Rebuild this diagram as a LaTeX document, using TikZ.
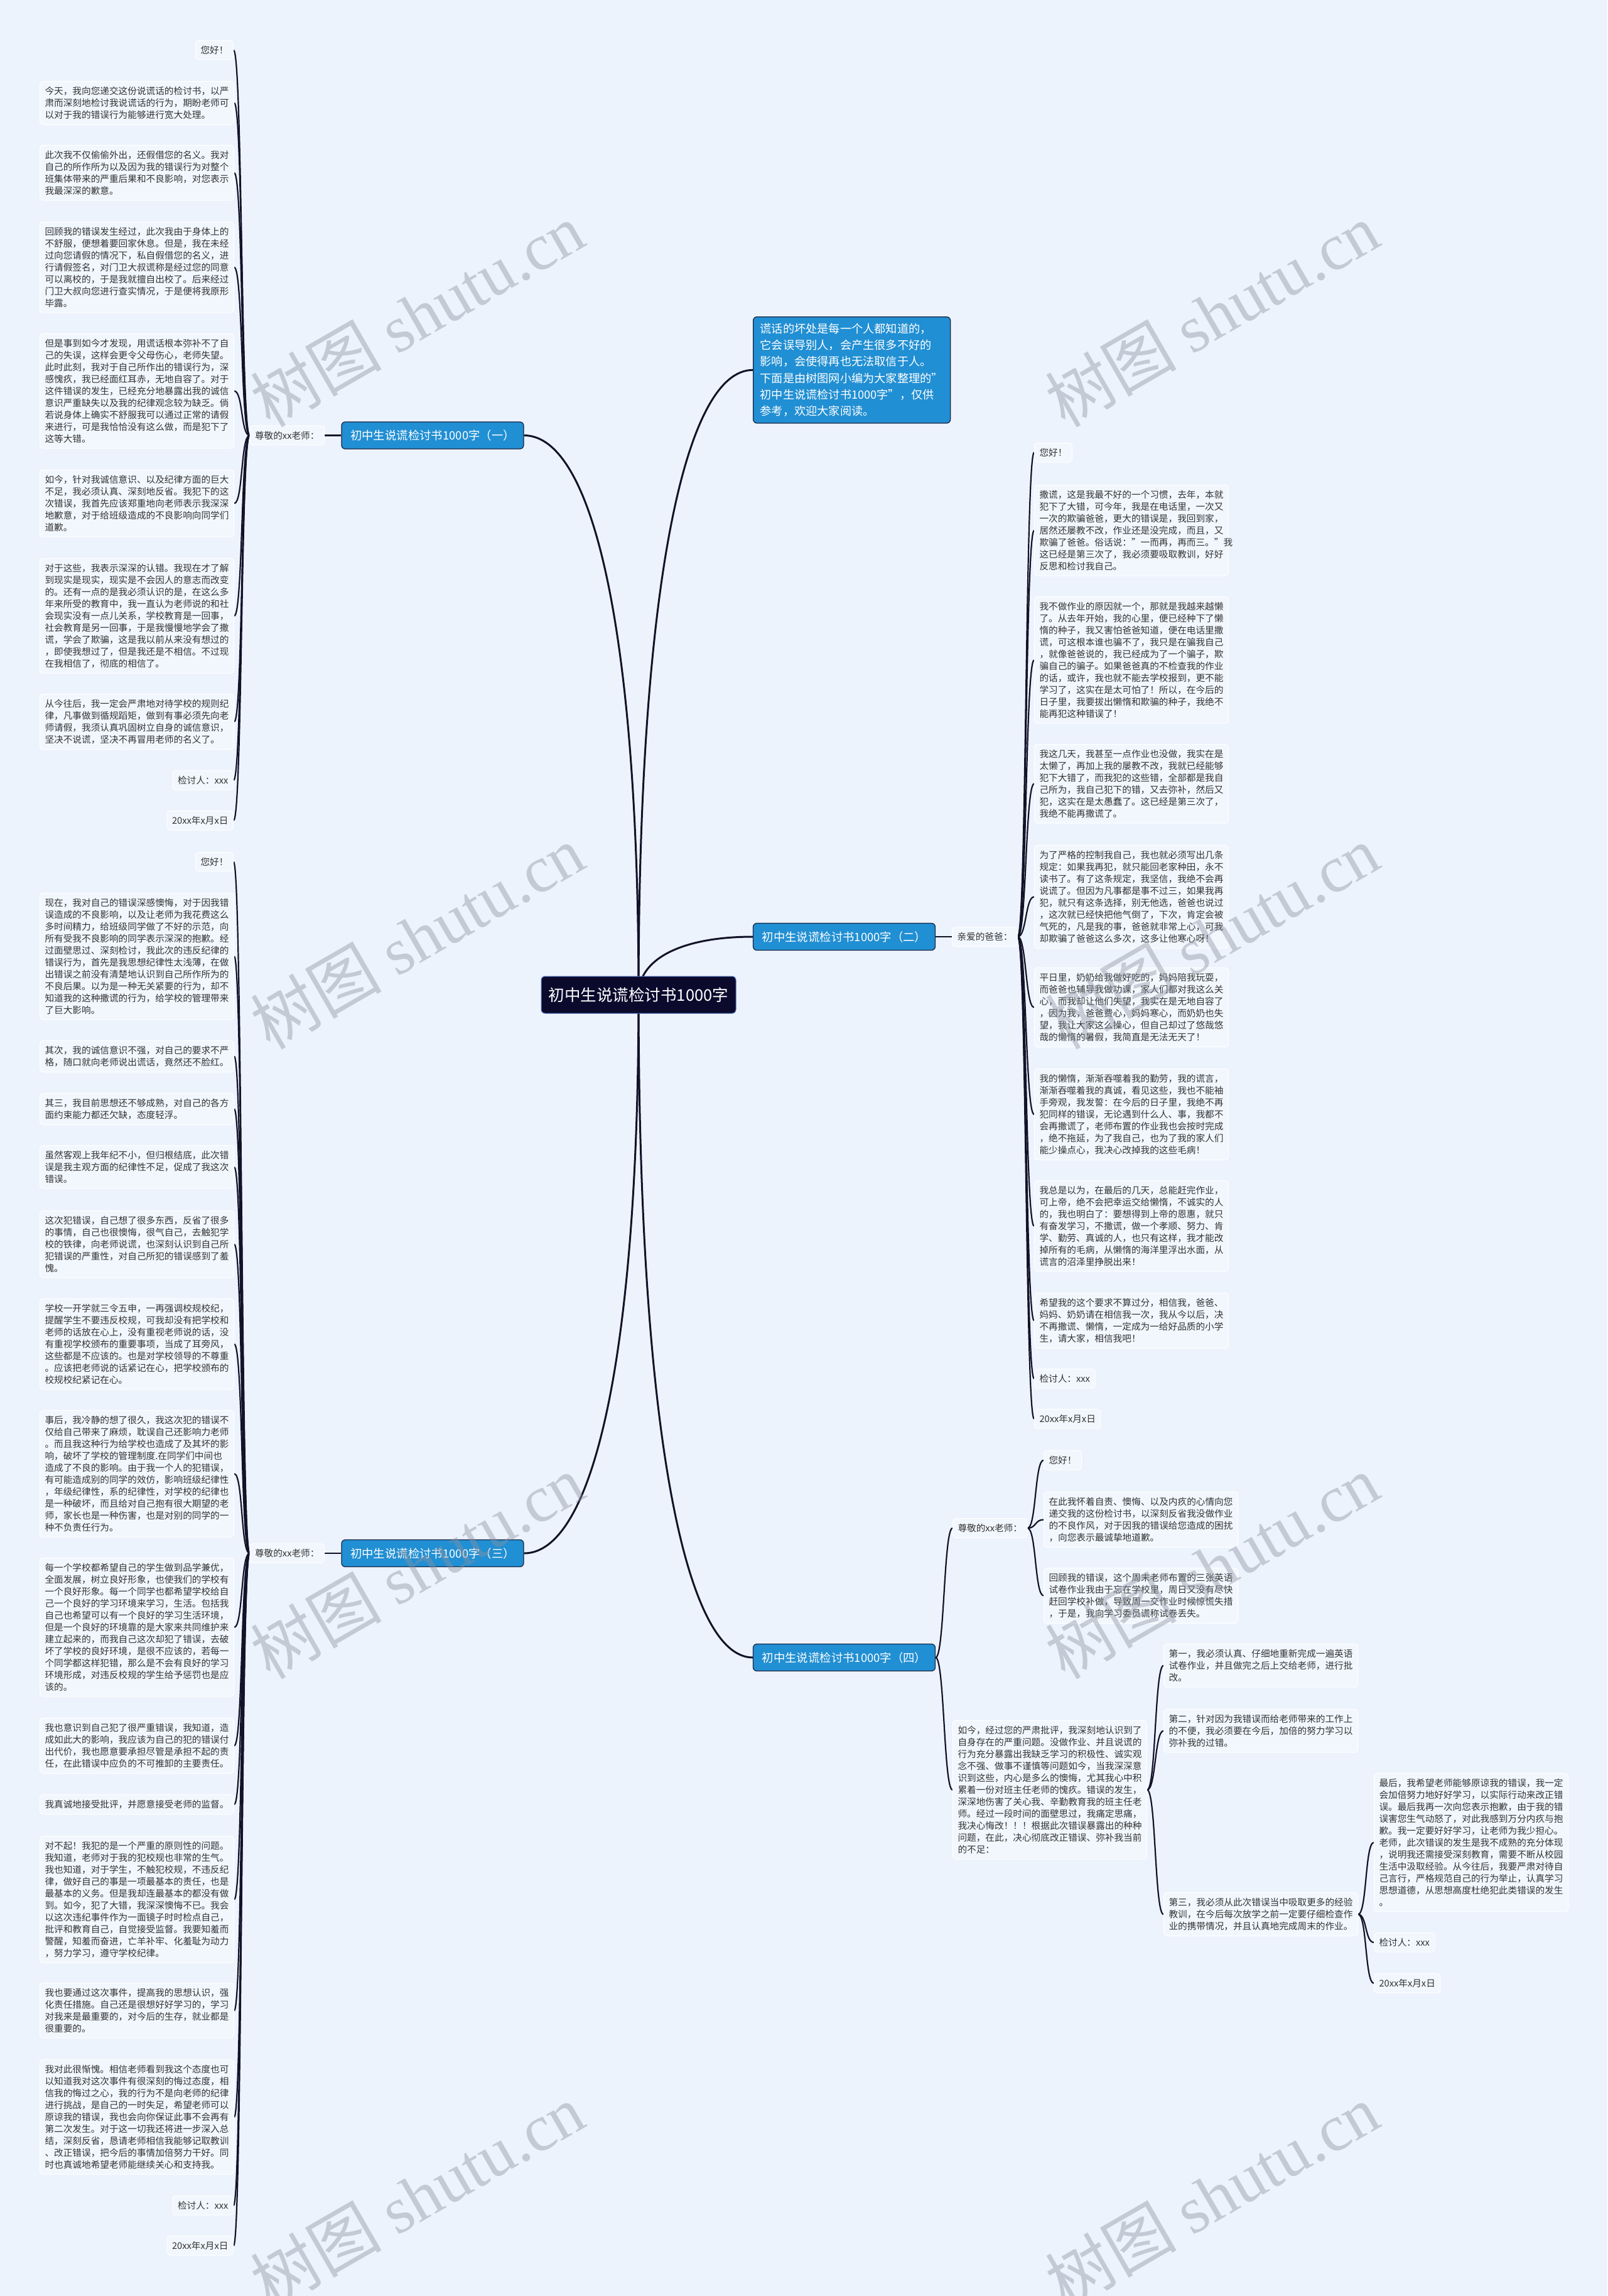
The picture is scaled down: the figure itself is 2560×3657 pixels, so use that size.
\documentclass[tikz,border=0pt]{standalone}
\usepackage{fontspec}
\setmainfont{Noto Sans CJK SC}
\newfontfamily\wmserif{Liberation Serif}
\usetikzlibrary{calc}
\definecolor{bg}{RGB}{237,243,252}
\definecolor{boxfill}{RGB}{242,247,254}
\definecolor{txt}{RGB}{51,51,51}
\definecolor{lnk}{RGB}{18,18,40}
\definecolor{brfill}{RGB}{33,143,211}
\definecolor{brdraw}{RGB}{25,40,70}
\definecolor{ctrfill}{RGB}{12,10,44}
\definecolor{ctrdraw}{RGB}{80,120,200}
\definecolor{wm}{RGB}{140,146,160}
\pgfdeclarelayer{bgl}\pgfdeclarelayer{fgl}
\pgfsetlayers{bgl,main,fgl}
\newcommand\mmL[2]{\draw[sub] (#1.west) .. controls +(-14,0) and +(14,0) .. (#2.east);}
\newcommand\mmR[2]{\draw[sub] (#1.east) .. controls +(14,0) and +(-14,0) .. (#2.west);}
\begin{document}
\begin{tikzpicture}[x=1pt,y=-1pt,
  leaf/.style={draw=white, line width=1pt, fill=boxfill, rounded corners=5pt, text=txt,
    font=\fontsize{14.65}{19}\selectfont, inner xsep=8pt, inner ysep=8.5pt, align=left},
  para/.style={leaf, text width=293pt, anchor=north west},
  branch/.style={draw=brdraw, line width=1.3pt, fill=brfill, rounded corners=6pt, text=white,
    font=\fontsize{18.4}{22}\selectfont, minimum width=290pt, minimum height=43pt, inner xsep=0pt},
  intro/.style={draw=brdraw, line width=1.3pt, fill=brfill, rounded corners=6pt, text=white,
    font=\fontsize{18.2}{26.2}\selectfont, text width=292pt, align=left, inner xsep=11pt, inner ysep=10.5pt, anchor=north west},
  center/.style={draw=ctrdraw, line width=1pt, fill=ctrfill, rounded corners=6pt, text=white,
    font=\fontsize{25.5}{30}\selectfont, minimum width=310pt, minimum height=59pt},
  sub/.style={draw=lnk, line width=2.2pt},
  mainl/.style={draw=lnk, line width=3pt},
  wmark/.style={text=wm, text opacity=0.42, font=\fontsize{105}{105}\selectfont, rotate=30}
]
\useasboundingbox (0,0) rectangle (2560,3657);

% ---------- centre and branches ----------
\node[center] (ctr) at (1017,1584.5) {初中生说谎检讨书1000字};
\coordinate (C) at (1017,1584.5);
\node[intro] (intro) at (1199,504) {谎话的坏处是每一个人都知道的，\\它会误导别人，会产生很多不好的\\影响，会使得再也无法取信于人。\\下面是由树图网小编为大家整理的"\\初中生说谎检讨书1000字"，仅供\\参考，欢迎大家阅读。};
\node[branch] (b1) at (689,693.5) {初中生说谎检讨书1000字（一）};
\node[branch] (b2) at (1344.5,1492) {初中生说谎检讨书1000字（二）};
\node[branch] (b3) at (689,2474) {初中生说谎检讨书1000字（三）};
\node[branch] (b4) at (1344.5,2640) {初中生说谎检讨书1000字（四）};

% ---------- branch 1 ----------
\node[leaf, anchor=east] (z1) at (517,693.5) {尊敬的xx老师：};
\node[leaf, anchor=north east] (a0) at (372,64) {您好！};
\node[para] (a1) at (63,129) {今天，我向您递交这份说谎话的检讨书，以严\\肃而深刻地检讨我说谎话的行为，期盼老师可\\以对于我的错误行为能够进行宽大处理。};
\node[para] (a2) at (63,231) {此次我不仅偷偷外出，还假借您的名义。我对\\自己的所作所为以及因为我的错误行为对整个\\班集体带来的严重后果和不良影响，对您表示\\我最深深的歉意。};
\node[para] (a3) at (63,353) {回顾我的错误发生经过，此次我由于身体上的\\不舒服，便想着要回家休息。但是，我在未经\\过向您请假的情况下，私自假借您的名义，进\\行请假签名，对门卫大叔谎称是经过您的同意\\可以离校的，于是我就擅自出校了。后来经过\\门卫大叔向您进行查实情况，于是便将我原形\\毕露。};
\node[para] (a4) at (63,531) {但是事到如今才发现，用谎话根本弥补不了自\\己的失误，这样会更令父母伤心，老师失望。\\此时此刻，我对于自己所作出的错误行为，深\\感愧疚，我已经面红耳赤，无地自容了。对于\\这件错误的发生，已经充分地暴露出我的诚信\\意识严重缺失以及我的纪律观念较为缺乏。倘\\若说身体上确实不舒服我可以通过正常的请假\\来进行，可是我恰恰没有这么做，而是犯下了\\这等大错。};
\node[para] (a5) at (63,748) {如今，针对我诚信意识、以及纪律方面的巨大\\不足，我必须认真、深刻地反省。我犯下的这\\次错误，我首先应该郑重地向老师表示我深深\\地歉意，对于给班级造成的不良影响向同学们\\道歉。};
\node[para] (a6) at (63,889) {对于这些，我表示深深的认错。我现在才了解\\到现实是现实，现实是不会因人的意志而改变\\的。还有一点的是我必须认识的是，在这么多\\年来所受的教育中，我一直认为老师说的和社\\会现实没有一点儿关系，学校教育是一回事，\\社会教育是另一回事，于是我慢慢地学会了撒\\谎，学会了欺骗，这是我以前从来没有想过的\\，即使我想过了，但是我还是不相信。不过现\\在我相信了，彻底的相信了。};
\node[para] (a7) at (63,1105) {从今往后，我一定会严肃地对待学校的规则纪\\律，凡事做到循规蹈矩，做到有事必须先向老\\师请假，我须认真巩固树立自身的诚信意识，\\坚决不说谎，坚决不再冒用老师的名义了。};
\node[leaf, anchor=north east] (a8) at (372,1227) {检讨人：xxx};
\node[leaf, anchor=north east] (a9) at (372,1291) {20xx年x月x日};

% ---------- branch 2 ----------
\node[leaf, anchor=west] (z2) at (1516,1492) {亲爱的爸爸：};
\node[leaf, anchor=north west] (e0) at (1647,705) {您好！};
\node[para] (e1) at (1647,772) {撒谎，这是我最不好的一个习惯，去年，本就\\犯下了大错，可今年，我是在电话里，一次又\\一次的欺骗爸爸，更大的错误是，我回到家，\\居然还屡教不改，作业还是没完成，而且，又\\欺骗了爸爸。俗话说："一而再，再而三。"我\\这已经是第三次了，我必须要吸取教训，好好\\反思和检讨我自己。};
\node[para] (e2) at (1647,950) {我不做作业的原因就一个，那就是我越来越懒\\了。从去年开始，我的心里，便已经种下了懒\\惰的种子，我又害怕爸爸知道，便在电话里撒\\谎，可这根本谁也骗不了，我只是在骗我自己\\，就像爸爸说的，我已经成为了一个骗子，欺\\骗自己的骗子。如果爸爸真的不检查我的作业\\的话，或许，我也就不能去学校报到，更不能\\学习了，这实在是太可怕了！所以，在今后的\\日子里，我要拔出懒惰和欺骗的种子，我绝不\\能再犯这种错误了！};
\node[para] (e3) at (1647,1185) {我这几天，我甚至一点作业也没做，我实在是\\太懒了，再加上我的屡教不改，我就已经能够\\犯下大错了，而我犯的这些错，全部都是我自\\己所为，我自己犯下的错，又去弥补，然后又\\犯，这实在是太愚蠢了。这已经是第三次了，\\我绝不能再撒谎了。};
\node[para] (e4) at (1647,1346) {为了严格的控制我自己，我也就必须写出几条\\规定：如果我再犯，就只能回老家种田，永不\\读书了。有了这条规定，我坚信，我绝不会再\\说谎了。但因为凡事都是事不过三，如果我再\\犯，就只有这条选择，别无他选，爸爸也说过\\，这次就已经快把他气倒了，下次，肯定会被\\气死的，凡是我的事，爸爸就非常上心，可我\\却欺骗了爸爸这么多次，这多让他寒心呀！};
\node[para] (e5) at (1647,1541) {平日里，奶奶给我做好吃的，妈妈陪我玩耍，\\而爸爸也辅导我做功课，家人们都对我这么关\\心，而我却让他们失望，我实在是无地自容了\\，因为我，爸爸费心，妈妈寒心，而奶奶也失\\望，我让大家这么操心，但自己却过了悠哉悠\\哉的懒惰的暑假，我简直是无法无天了！};
\node[para] (e6) at (1647,1702) {我的懒惰，渐渐吞噬着我的勤劳，我的谎言，\\渐渐吞噬着我的真诚，看见这些，我也不能袖\\手旁观，我发誓：在今后的日子里，我绝不再\\犯同样的错误，无论遇到什么人、事，我都不\\会再撒谎了，老师布置的作业我也会按时完成\\，绝不拖延，为了我自己，也为了我的家人们\\能少操点心，我决心改掉我的这些毛病！};
\node[para] (e7) at (1647,1880) {我总是以为，在最后的几天，总能赶完作业，\\可上帝，绝不会把幸运交给懒惰，不诚实的人\\的，我也明白了：要想得到上帝的恩惠，就只\\有奋发学习，不撒谎，做一个孝顺、努力、肯\\学、勤劳、真诚的人，也只有这样，我才能改\\掉所有的毛病，从懒惰的海洋里浮出水面，从\\谎言的沼泽里挣脱出来！};
\node[para] (e8) at (1647,2059) {希望我的这个要求不算过分，相信我，爸爸、\\妈妈、奶奶请在相信我一次，我从今以后，决\\不再撒谎、懒惰，一定成为一给好品质的小学\\生，请大家，相信我吧！};
\node[leaf, anchor=north west] (e9) at (1647,2180) {检讨人：xxx};
\node[leaf, anchor=north west] (e10) at (1647,2244) {20xx年x月x日};

% ---------- branch 3 ----------
\node[leaf, anchor=east] (z3) at (517,2474) {尊敬的xx老师：};
\node[leaf, anchor=north east] (c0) at (372,1357) {您好！};
\node[para] (c1) at (63,1422) {现在，我对自己的错误深感懊悔，对于因我错\\误造成的不良影响，以及让老师为我花费这么\\多时间精力，给班级同学做了不好的示范，向\\所有受我不良影响的同学表示深深的抱歉。经\\过面壁思过、深刻检讨，我此次的违反纪律的\\错误行为，首先是我思想纪律性太浅薄，在做\\出错误之前没有清楚地认识到自己所作所为的\\不良后果。以为是一种无关紧要的行为，却不\\知道我的这种撒谎的行为，给学校的管理带来\\了巨大影响。};
\node[para] (c2) at (63,1657) {其次，我的诚信意识不强，对自己的要求不严\\格，随口就向老师说出谎话，竟然还不脸红。};
\node[para] (c3) at (63,1741) {其三，我目前思想还不够成熟，对自己的各方\\面约束能力都还欠缺，态度轻浮。};
\node[para] (c4) at (63,1824) {虽然客观上我年纪不小，但归根结底，此次错\\误是我主观方面的纪律性不足，促成了我这次\\错误。};
\node[para] (c5) at (63,1928) {这次犯错误，自己想了很多东西，反省了很多\\的事情，自己也很懊悔，很气自己，去触犯学\\校的铁律，向老师说谎，也深刻认识到自己所\\犯错误的严重性，对自己所犯的错误感到了羞\\愧。};
\node[para] (c6) at (63,2068) {学校一开学就三令五申，一再强调校规校纪，\\提醒学生不要违反校规，可我却没有把学校和\\老师的话放在心上，没有重视老师说的话，没\\有重视学校颁布的重要事项，当成了耳旁风，\\这些都是不应该的。也是对学校领导的不尊重\\。应该把老师说的话紧记在心，把学校颁布的\\校规校纪紧记在心。};
\node[para] (c7) at (63,2246) {事后，我冷静的想了很久，我这次犯的错误不\\仅给自己带来了麻烦，耽误自己还影响力老师\\。而且我这种行为给学校也造成了及其坏的影\\响，破坏了学校的管理制度.在同学们中间也\\造成了不良的影响。由于我一个人的犯错误，\\有可能造成别的同学的效仿，影响班级纪律性\\，年级纪律性，系的纪律性，对学校的纪律也\\是一种破坏，而且给对自己抱有很大期望的老\\师，家长也是一种伤害，也是对别的同学的一\\种不负责任行为。};
\node[para] (c8) at (63,2481) {每一个学校都希望自己的学生做到品学兼优，\\全面发展，树立良好形象，也使我们的学校有\\一个良好形象。每一个同学也都希望学校给自\\己一个良好的学习环境来学习，生活。包括我\\自己也希望可以有一个良好的学习生活环境，\\但是一个良好的环境靠的是大家来共同维护来\\建立起来的，而我自己这次却犯了错误，去破\\坏了学校的良好环境，是很不应该的，若每一\\个同学都这样犯错，那么是不会有良好的学习\\环境形成，对违反校规的学生给予惩罚也是应\\该的。};
\node[para] (c9) at (63,2736) {我也意识到自己犯了很严重错误，我知道，造\\成如此大的影响，我应该为自己的犯的错误付\\出代价，我也愿意要承担尽管是承担不起的责\\任，在此错误中应负的不可推卸的主要责任。};
\node[para] (c10) at (63,2858) {我真诚地接受批评，并愿意接受老师的监督。};
\node[para] (c11) at (63,2924) {对不起！我犯的是一个严重的原则性的问题。\\我知道，老师对于我的犯校规也非常的生气。\\我也知道，对于学生，不触犯校规，不违反纪\\律，做好自己的事是一项最基本的责任，也是\\最基本的义务。但是我却连最基本的都没有做\\到。如今，犯了大错，我深深懊悔不已。我会\\以这次违纪事件作为一面镜子时时检点自己，\\批评和教育自己，自觉接受监督。我要知羞而\\警醒，知羞而奋进，亡羊补牢、化羞耻为动力\\，努力学习，遵守学校纪律。};
\node[para] (c12) at (63,3158) {我也要通过这次事件，提高我的思想认识，强\\化责任措施。自己还是很想好好学习的，学习\\对我来是最重要的，对今后的生存，就业都是\\很重要的。};
\node[para] (c13) at (63,3280) {我对此很惭愧。相信老师看到我这个态度也可\\以知道我对这次事件有很深刻的悔过态度，相\\信我的悔过之心，我的行为不是向老师的纪律\\进行挑战，是自己的一时失足，希望老师可以\\原谅我的错误，我也会向你保证此事不会再有\\第二次发生。对于这一切我还将进一步深入总\\结，深刻反省，恳请老师相信我能够记取教训\\、改正错误，把今后的事情加倍努力干好。同\\时也真诚地希望老师能继续关心和支持我。};
\node[leaf, anchor=north east] (c14) at (372,3497) {检讨人：xxx};
\node[leaf, anchor=north east] (c15) at (372,3561) {20xx年x月x日};

% ---------- branch 4 ----------
\node[leaf, anchor=west] (z4) at (1517,2434) {尊敬的xx老师：};
\node[leaf, anchor=north west] (f0) at (1662,2310) {您好！};
\node[para] (f1) at (1662,2376) {在此我怀着自责、懊悔、以及内疚的心情向您\\递交我的这份检讨书，以深刻反省我没做作业\\的不良作风，对于因我的错误给您造成的困扰\\，向您表示最诚挚地道歉。};
\node[para] (f2) at (1662,2497) {回顾我的错误，这个周末老师布置的三张英语\\试卷作业我由于忘在学校里，周日又没有尽快\\赶回学校补做，导致周一交作业时候惊慌失措\\，于是，我向学习委员谎称试卷丢失。};
\node[para] (g0) at (1517,2740) {如今，经过您的严肃批评，我深刻地认识到了\\自身存在的严重问题。没做作业、并且说谎的\\行为充分暴露出我缺乏学习的积极性、诚实观\\念不强、做事不谨慎等问题如今，当我深深意\\识到这些，内心是多么的懊悔，尤其我心中积\\累着一份对班主任老师的愧疚。错误的发生，\\深深地伤害了关心我、辛勤教育我的班主任老\\师。经过一段时间的面壁思过，我痛定思痛，\\我决心悔改！！！根据此次错误暴露出的种种\\问题，在此，决心彻底改正错误、弥补我当前\\的不足：};
\node[para] (g1) at (1853,2618) {第一，我必须认真、仔细地重新完成一遍英语\\试卷作业，并且做完之后上交给老师，进行批\\改。};
\node[para] (g2) at (1853,2722) {第二，针对因为我错误而给老师带来的工作上\\的不便，我必须要在今后，加倍的努力学习以\\弥补我的过错。};
\node[para] (g3) at (1853,3014) {第三，我必须从此次错误当中吸取更多的经验\\教训，在今后每次放学之前一定要仔细检查作\\业的携带情况，并且认真地完成周末的作业。};
\node[para] (h1) at (2188,2824) {最后，我希望老师能够原谅我的错误，我一定\\会加倍努力地好好学习，以实际行动来改正错\\误。最后我再一次向您表示抱歉，由于我的错\\误害您生气动怒了，对此我感到万分内疚与抱\\歉。我一定要好好学习，让老师为我少担心。\\老师，此次错误的发生是我不成熟的充分体现\\，说明我还需接受深刻教育，需要不断从校园\\生活中汲取经验。从今往后，我要严肃对待自\\己言行，严格规范自己的行为举止，认真学习\\思想道德，从思想高度杜绝犯此类错误的发生\\。};
\node[leaf, anchor=north west] (h2) at (2188,3078) {检讨人：xxx};
\node[leaf, anchor=north west] (h3) at (2188,3143) {20xx年x月x日};

% ---------- connectors ----------
\begin{pgfonlayer}{bgl}
\fill[bg] (0,0) rectangle (2560,3657);
\draw[mainl] (C) .. controls (1017,938) and (1090,589) .. (intro.west);
\draw[mainl] (C) .. controls (1017,1005) and (944,693.5) .. (b1.east);
\draw[mainl] (C) .. controls (1017,1525) and (1090,1492) .. (b2.west);
\draw[mainl] (C) .. controls (1017,2163) and (944,2474) .. (b3.east);
\draw[mainl] (C) .. controls (1017,2271) and (1090,2640) .. (b4.west);
\draw[sub] (b1.west) -- (z1.east);
\draw[sub] (b2.east) -- (z2.west);
\draw[sub] (b3.west) -- (z3.east);
\foreach \n in {a0,a1,a2,a3,a4,a5,a6,a7,a8,a9} {\mmL{z1}{\n}}
\foreach \n in {e0,e1,e2,e3,e4,e5,e6,e7,e8,e9,e10} {\mmR{z2}{\n}}
\foreach \n in {c0,c1,c2,c3,c4,c5,c6,c7,c8,c9,c10,c11,c12,c13,c14,c15} {\mmL{z3}{\n}}
\mmR{b4}{z4}
\mmR{b4}{g0}
\foreach \n in {f0,f1,f2} {\mmR{z4}{\n}}
\foreach \n in {g1,g2,g3} {\mmR{g0}{\n}}
\foreach \n in {h1,h2,h3} {\mmR{g3}{\n}}
\end{pgfonlayer}

% ---------- watermarks ----------
\begin{pgfonlayer}{fgl}
\foreach \wx in {664,1930} {
  \foreach \wy in {501,1492,2495,3497} {
    \node[wmark] at (\wx,\wy) {树图 {\wmserif shutu.cn}};
  }
}
\end{pgfonlayer}
\end{tikzpicture}
\end{document}
